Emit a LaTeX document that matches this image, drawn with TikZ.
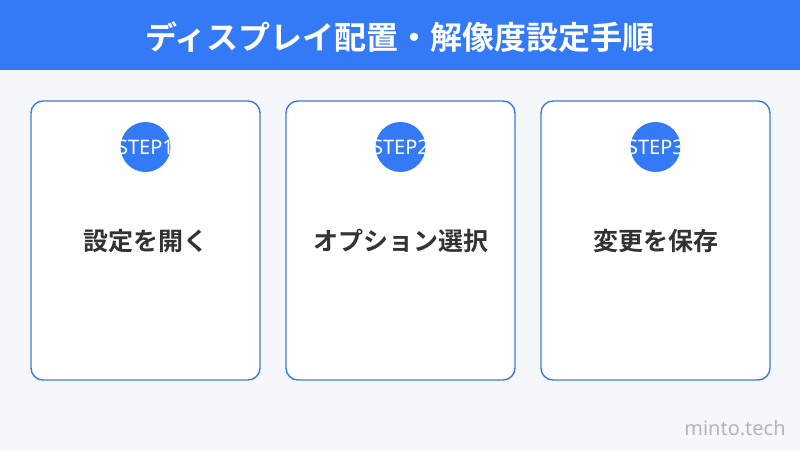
\documentclass[tikz,border=0pt]{standalone}
\usepackage{fontspec}
\setmainfont{Noto Sans}
\newfontfamily\jpbold[BoldFont={Noto Sans CJK JP Bold}]{Noto Sans CJK JP}
\definecolor{headblue}{HTML}{3479F5}
\definecolor{cardline}{HTML}{3D7BDB}
\definecolor{pagebg}{HTML}{F5F7FA}
\definecolor{textdark}{HTML}{333333}
\definecolor{markgray}{HTML}{B5B5B5}
\tikzset{
  card/.style={draw=cardline, line width=1.4pt, fill=white, rounded corners=12pt,
               minimum width=229pt, minimum height=279pt, inner sep=0pt},
  badge/.style={circle, fill=headblue, minimum size=50pt, inner sep=0pt},
  steplabel/.style={text=white, font=\fontsize{20}{20}\selectfont},
  cardtext/.style={text=textdark, font=\jpbold\bfseries\fontsize{25}{25}\selectfont}
}
\begin{document}
\begin{tikzpicture}[x=1pt, y=-1pt]
  \useasboundingbox (0,0) rectangle (800,450);
  \fill[pagebg] (0,0) rectangle (800,450);
  \fill[headblue] (0,0) rectangle (800,70);
  \path node (T) at (400,37) [text=white, font=\jpbold\bfseries\fontsize{32}{32}\selectfont]
          {ディスプレイ配置・解像度設定手順}
        %
        node (C1) at (145.5,240.5) [card] {}
        node (C2) at (400.5,240.5) [card] {}
        node (C3) at (655.5,240.5) [card] {}
        %
        node (S1) at (145.5,147) [badge] {}
        node (S2) at (400.5,147) [badge] {}
        node (S3) at (655.5,147) [badge] {}
        node at (S1) [steplabel] {STEP1}
        node at (S2) [steplabel] {STEP2}
        node at (S3) [steplabel] {STEP3}
        %
        node (L1) at (145.5,241) [cardtext] {設定を開く}
        node (L2) at (400.5,241) [cardtext] {オプション選択}
        node (L3) at (655.5,241) [cardtext] {変更を保存}
        %
        node (W) at (735,428) [text=markgray, font=\fontsize{20}{20}\selectfont] {minto.tech};
\end{tikzpicture}
\end{document}
